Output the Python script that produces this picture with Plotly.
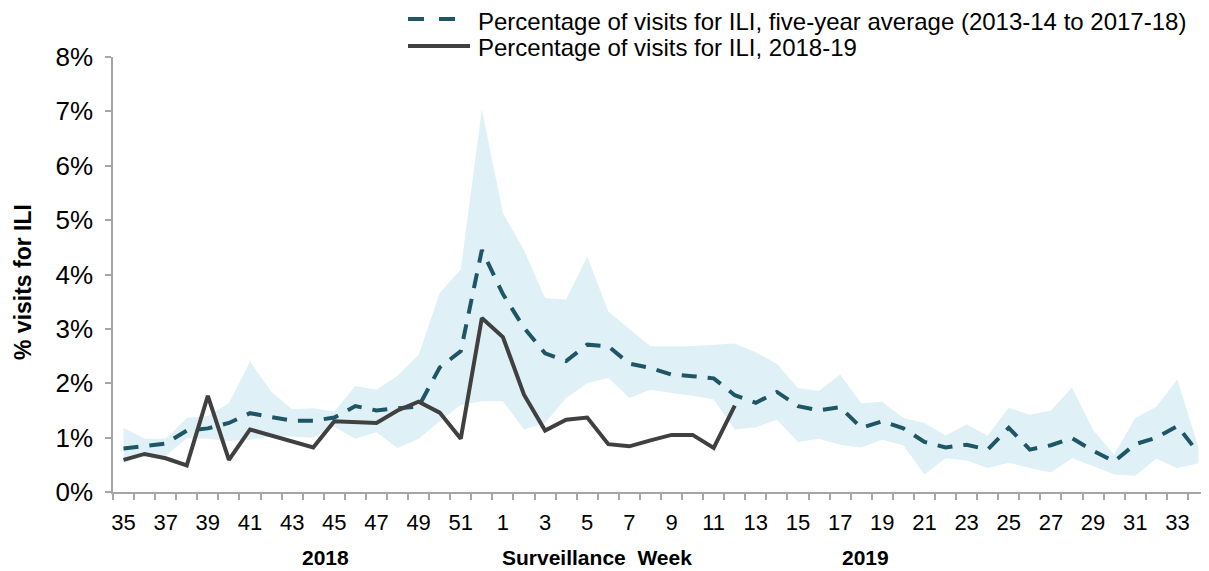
import plotly.graph_objects as go

weeks = [35, 36, 37, 38, 39, 40, 41, 42, 43, 44, 45, 46, 47, 48, 49, 50, 51, 52,
         1, 2, 3, 4, 5, 6, 7, 8, 9, 10, 11, 12, 13, 14, 15, 16, 17, 18, 19, 20,
         21, 22, 23, 24, 25, 26, 27, 28, 29, 30, 31, 32, 33, 34]

avg_5yr = [0.80, 0.84, 0.89, 1.13, 1.17, 1.27, 1.45, 1.38, 1.31, 1.31, 1.37, 1.58,
           1.50, 1.54, 1.57, 2.29, 2.59, 4.45, 3.64, 3.02, 2.55, 2.41, 2.71, 2.68,
           2.36, 2.28, 2.16, 2.13, 2.09, 1.78, 1.64, 1.84, 1.58, 1.50, 1.56, 1.18,
           1.30, 1.17, 0.92, 0.82, 0.87, 0.78, 1.18, 0.78, 0.86, 0.99, 0.76, 0.56,
           0.88, 1.00, 1.21, 0.72]

season_2018_19 = [0.59, 0.70, 0.62, 0.49, 1.77, 0.59, 1.15, 1.04, 0.93, 0.82, 1.30,
                  1.29, 1.27, 1.50, 1.66, 1.46, 0.98, 3.20, 2.85, 1.79, 1.13, 1.33,
                  1.37, 0.88, 0.84, 0.95, 1.05, 1.05, 0.81, 1.59] + [None] * 22

band_upper = [1.18, 0.98, 0.98, 1.36, 1.40, 1.63, 2.40, 1.85, 1.52, 1.54, 1.48, 1.95,
              1.88, 2.14, 2.52, 3.66, 4.09, 7.04, 5.13, 4.45, 3.57, 3.54, 4.33, 3.32,
              3.00, 2.68, 2.68, 2.68, 2.71, 2.73, 2.57, 2.36, 1.91, 1.86, 2.16, 1.63,
              1.66, 1.36, 1.27, 1.04, 1.24, 1.04, 1.55, 1.42, 1.50, 1.92, 1.14, 0.69,
              1.36, 1.57, 2.07, 0.82]

band_lower = [0.53, 0.69, 0.66, 0.99, 0.98, 0.94, 0.96, 1.02, 1.02, 1.00, 1.20, 0.98,
              1.10, 0.81, 0.98, 1.30, 1.60, 1.67, 1.67, 1.15, 1.27, 1.73, 2.00, 2.10,
              1.73, 1.88, 1.82, 1.77, 1.70, 1.15, 1.19, 1.33, 0.92, 0.98, 0.87, 0.82,
              0.96, 0.86, 0.32, 0.62, 0.58, 0.44, 0.54, 0.44, 0.36, 0.62, 0.48, 0.32,
              0.30, 0.61, 0.44, 0.53]

y_ticks = [0, 1, 2, 3, 4, 5, 6, 7, 8]
label_every = 2

legend_labels = ["Percentage of visits for ILI, five-year average (2013-14 to 2017-18)",
                 "Percentage of visits for ILI, 2018-19"]

FONT = "Arial, Liberation Sans, sans-serif"
BAND = "rgb(223,240,246)"
DASH_COLOR = "rgb(30,86,102)"
SOLID_COLOR = "rgb(64,64,64)"
AXIS_COLOR = "rgb(166,166,166)"

x = list(range(len(weeks)))

fig = go.Figure()
fig.add_trace(go.Scatter(x=x, y=band_lower, mode="lines", line=dict(width=0),
                         hoverinfo="skip", showlegend=False))
fig.add_trace(go.Scatter(x=x, y=band_upper, mode="lines", line=dict(width=0),
                         fill="tonexty", fillcolor=BAND, hoverinfo="skip",
                         showlegend=False))
fig.add_trace(go.Scatter(x=x, y=avg_5yr, mode="lines", name=legend_labels[0],
                         line=dict(color=DASH_COLOR, width=4, dash="15px,11px"),
                         showlegend=False))
fig.add_trace(go.Scatter(x=x, y=season_2018_19, mode="lines", name=legend_labels[1],
                         line=dict(color=SOLID_COLOR, width=4), connectgaps=False,
                         showlegend=False))

# page body has an 8px margin; the figure is placed at (8, 8)
OFF = 8
W, H = 1209 - OFF, 571 - OFF
L, R, T, B = 113 - OFF, 0, 57 - OFF, 79
pw = W - L - R
ph = H - T - B


def px_x(p):
    return (p - OFF - L) / pw


def px_y(p):
    return (OFF + H - B - p) / ph


# custom legend
fig.add_shape(type="line", xref="paper", yref="paper",
              x0=px_x(408), x1=px_x(456), y0=px_y(19), y1=px_y(19),
              line=dict(color=DASH_COLOR, width=4, dash="16px,15px"))
fig.add_shape(type="line", xref="paper", yref="paper",
              x0=px_x(408), x1=px_x(470), y0=px_y(46), y1=px_y(46),
              line=dict(color=SOLID_COLOR, width=4))
for lab, py in zip(legend_labels, [22, 47]):
    fig.add_annotation(text=lab, xref="paper", yref="paper", x=px_x(476), y=px_y(py),
                       xanchor="left", yanchor="middle", showarrow=False,
                       font=dict(family=FONT, size=24, color="black"))

# axis title and bottom labels
fig.add_annotation(text="<b>% visits for ILI</b>", xref="paper", yref="paper",
                   x=px_x(23), y=px_y(282), xanchor="center", yanchor="middle",
                   textangle=-90, showarrow=False,
                   font=dict(family=FONT, size=23, color="black"))
for txt, pxx in [("2018", 325), ("Surveillance\u00a0 Week", 597), ("2019", 865)]:
    fig.add_annotation(text="<b>" + txt + "</b>", xref="paper", yref="paper",
                       x=px_x(pxx), y=px_y(557), xanchor="center", yanchor="middle",
                       showarrow=False, font=dict(family=FONT, size=21, color="black"))

fig.update_layout(
    width=W, height=H,
    margin=dict(l=L, r=R, t=T, b=B),
    plot_bgcolor="white", paper_bgcolor="white",
    showlegend=False,
    font=dict(family=FONT, color="black"),
    xaxis=dict(
        range=[-0.5, len(weeks) - 0.5],
        tickmode="array",
        tickvals=x[::label_every],
        ticktext=[str(w) for w in weeks[::label_every]],
        ticks="",
        showgrid=False, zeroline=False,
        showline=True, linecolor=AXIS_COLOR, linewidth=1.5,
        tickfont=dict(family=FONT, size=22, color="black"),
        ticklabelstandoff=10,
        minor=dict(ticks="outside", ticklen=6, tickcolor=AXIS_COLOR, tickwidth=1.5,
                   tickmode="linear", tick0=-0.5, dtick=1, showgrid=False),
    ),
    yaxis=dict(
        range=[0, 8],
        tickmode="array",
        tickvals=y_ticks,
        ticktext=[f"{v}%" for v in y_ticks],
        ticks="outside", ticklen=6, tickcolor=AXIS_COLOR, tickwidth=1.5,
        showgrid=False, zeroline=False,
        showline=True, linecolor=AXIS_COLOR, linewidth=1.5,
        tickfont=dict(family=FONT, size=26, color="black"),
        ticklabelstandoff=7,
    ),
)

fig.write_html("out.html")
